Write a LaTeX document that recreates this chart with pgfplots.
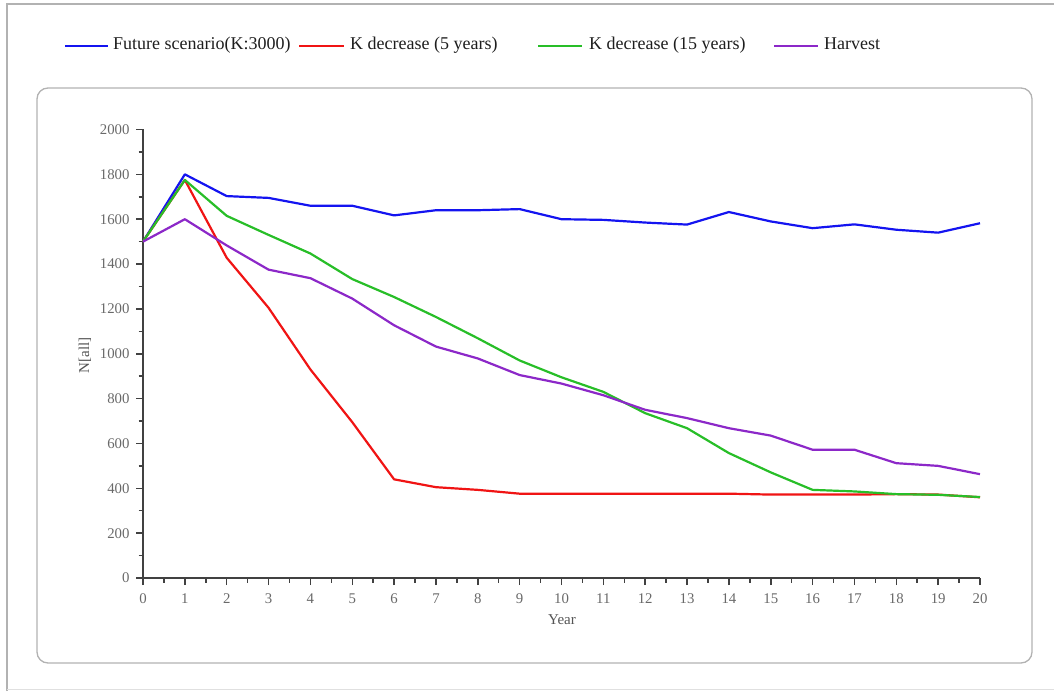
\documentclass[border=0pt]{standalone}
\usepackage{pgfplots}
\pgfplotsset{compat=1.18}
\usepackage{fontspec}
\setmainfont{Liberation Serif}
\definecolor{cblue}{RGB}{20,20,240}
\definecolor{cred}{RGB}{240,20,20}
\definecolor{cgreen}{RGB}{40,190,40}
\definecolor{cpurple}{RGB}{140,40,200}
\definecolor{ctick}{RGB}{105,105,105}
\definecolor{caxis}{RGB}{65,65,65}
\definecolor{ctext}{RGB}{30,30,30}
\begin{document}
\begin{tikzpicture}[x=1pt,y=1pt]
\path[use as bounding box] (0,0) rectangle (1054,691);
% outer frame
\draw[black!30, line width=1.5pt] (7,0) -- (7,687) -- (1054,687);
\draw[black!12, line width=1pt] (7,2) -- (1054,2);
% panel
\draw[black!30, line width=1.3pt, rounded corners=11pt] (37,28) rectangle (1032,603);
% legend
\begin{scope}[line width=2.8pt]
\draw[cblue] (65,645) -- (108,645);
\draw[cred] (299,645) -- (344,645);
\draw[cgreen] (538,645) -- (582,645);
\draw[cpurple] (774,645) -- (818,645);
\end{scope}
\begin{scope}[every node/.style={anchor=base west, inner sep=0pt, text=ctext, font=\fontsize{18}{20}\selectfont}]
\node at (113,641) {Future scenario(K:3000)};
\node at (350,641) {K decrease (5 years)};
\node at (589,641) {K decrease (15 years)};
\node at (824,641) {Harvest};
\end{scope}
\begin{axis}[
  at={(143pt,113pt)}, anchor=origin,
  scale only axis, width=837pt, height=448.5pt,
  xmin=0, xmax=20, ymin=0, ymax=2000,
  axis x line=bottom, axis y line=left,
  axis line style={-, color=caxis, line width=1.7pt},
  xtick={0,1,...,20}, minor x tick num=1,
  ytick={0,200,...,2000}, minor y tick num=1,
  tick align=outside,
  major tick length=7pt, minor tick length=4.5pt,
  tick style={color=caxis, line width=1.5pt},
  /pgf/number format/assume math mode=true,
  /pgf/number format/1000 sep={},
  ticklabel style={font=\fontsize{14.8}{16}\selectfont, text=ctick},
  xticklabel style={yshift=-5pt},
  yticklabel style={xshift=-3pt},
  xlabel={Year}, ylabel={N[all]},
  label style={font=\fontsize{15}{17}\selectfont, text=ctick!80!black},
  xlabel style={at={(axis description cs:0.5006,-0.0936)}, anchor=center},
  ylabel style={at={(axis description cs:-0.0693,0.497)}, anchor=center},
  clip=false,
  every axis plot/.append style={line width=2.2pt, mark=none, line join=round},
]
\addplot[cblue] coordinates {(0,1500) (1,1800) (2,1703) (3,1695) (4,1660) (5,1660) (6,1617) (7,1640) (8,1640) (9,1645) (10,1600) (11,1597) (12,1585) (13,1576) (14,1632) (15,1590) (16,1560) (17,1577) (18,1553) (19,1540) (20,1582)};
\addplot[cred] coordinates {(0,1500) (1,1775) (2,1428) (3,1205) (4,930) (5,695) (6,440) (7,405) (8,393) (9,376) (10,376) (11,376) (12,376) (13,376) (14,376) (15,372) (16,372) (17,372) (18,374) (19,372) (20,360)};
\addplot[cgreen] coordinates {(0,1500) (1,1775) (2,1615) (3,1530) (4,1447) (5,1333) (6,1253) (7,1164) (8,1069) (9,970) (10,895) (11,830) (12,735) (13,668) (14,557) (15,471) (16,393) (17,386) (18,374) (19,371) (20,361)};
\addplot[cpurple] coordinates {(0,1500) (1,1600) (2,1483) (3,1375) (4,1337) (5,1246) (6,1127) (7,1032) (8,979) (9,905) (10,867) (11,815) (12,750) (13,713) (14,668) (15,635) (16,572) (17,572) (18,512) (19,500) (20,463)};
\end{axis}
\end{tikzpicture}
\end{document}
